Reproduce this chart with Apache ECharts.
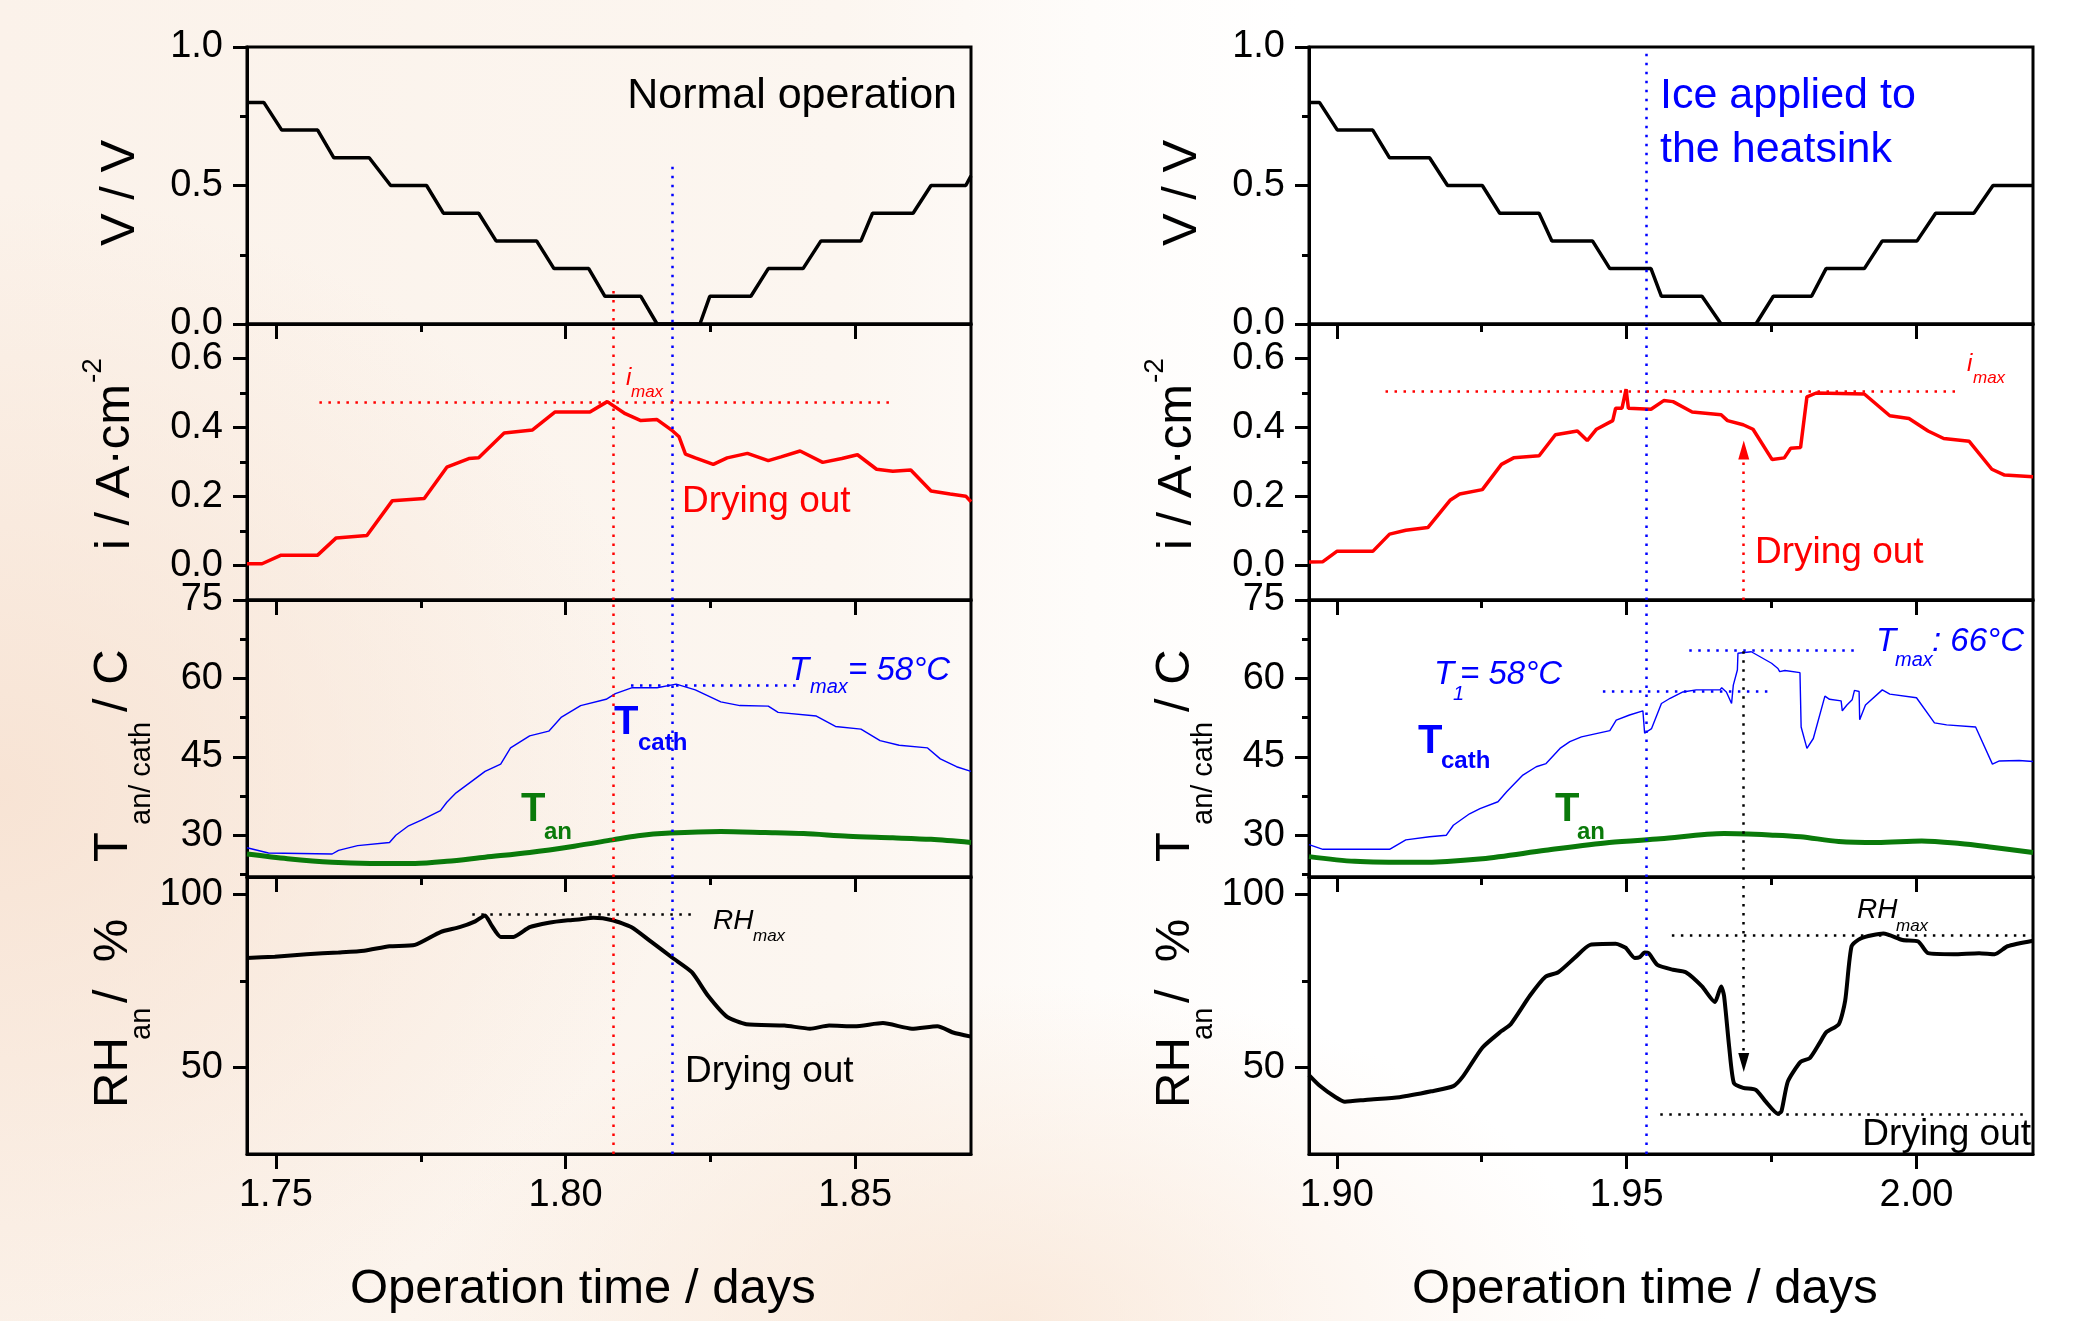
<!DOCTYPE html>
<html><head><meta charset="utf-8">
<script src="https://cdn.jsdelivr.net/npm/echarts@6/dist/echarts.min.js"></script>
<style>
html,body{margin:0;padding:0;width:2099px;height:1321px;overflow:hidden;}
body{background:
 radial-gradient(ellipse 900px 800px at 0% 60%, rgba(247,226,210,0.9), rgba(247,226,210,0) 75%),
 radial-gradient(ellipse 800px 450px at 48% 100%, rgba(249,230,214,0.8), rgba(249,230,214,0) 75%),
 linear-gradient(90deg, #fbf2ea 0%, #fcf6f0 40%, #fefcfa 52%, #ffffff 62%, #ffffff 100%);}
#c{width:2099px;height:1321px;}
</style></head><body><div id="c"></div><script>
// ---------------- data ----------------
// Left chart (normal operation)
const leftVx = [1.7450,1.7479,1.7510,1.7572,1.7600,1.7661,1.7698,1.7760,1.7789,1.7850,1.7880,1.7950,1.7980,1.8040,1.8068,1.8130,1.8158,1.8232,1.8249,1.8320,1.8350,1.8410,1.8441,1.8510,1.8530,1.8600,1.8631,1.8691,1.8700];
const leftVy = [0.8,0.8,0.7,0.7,0.6,0.6,0.5,0.5,0.4,0.4,0.3,0.3,0.2,0.2,0.1,0.1,0,0,0.1,0.1,0.2,0.2,0.3,0.3,0.4,0.4,0.5,0.5,0.535];
const leftIx = [1.7450,1.7476,1.7509,1.7572,1.7604,1.7657,1.7701,1.7756,1.7795,1.7833,1.7850,1.7894,1.7943,1.7982,1.8042,1.8072,1.8103,1.8130,1.8158,1.8185,1.8196,1.8207,1.8224,1.8255,1.8279,1.8314,1.8350,1.8372,1.8405,1.8444,1.8477,1.8504,1.8537,1.8565,1.8596,1.8631,1.8664,1.8691,1.8700];
const leftIy = [0.005,0.005,0.03,0.03,0.08,0.087,0.188,0.194,0.285,0.31,0.312,0.384,0.393,0.445,0.445,0.475,0.44,0.42,0.423,0.39,0.373,0.323,0.312,0.293,0.312,0.325,0.304,0.315,0.332,0.299,0.31,0.321,0.279,0.273,0.277,0.216,0.207,0.201,0.185];
const leftTcx = [1.7450,1.7487,1.7597,1.7608,1.7641,1.7696,1.7707,1.7729,1.7751,1.7784,1.7795,1.7811,1.7839,1.7861,1.7888,1.7905,1.7938,1.7971,1.7993,1.8026,1.8070,1.8086,1.8114,1.8158,1.8191,1.8224,1.8268,1.8301,1.8350,1.8367,1.8433,1.8466,1.8510,1.8543,1.8576,1.8625,1.8647,1.8675,1.8700];
const leftTcy = [27.6,26.6,26.4,27.1,28.0,28.6,30.0,31.8,32.9,34.7,36.3,38.1,40.4,42.2,43.6,46.7,49.0,49.9,52.6,54.8,56.0,57.1,58.2,58.2,58.9,57.8,55.5,54.8,54.7,53.5,52.8,50.8,50.3,48.1,47.2,46.7,44.6,43.1,42.2];
const leftTax = [1.7450,1.7520,1.7597,1.7663,1.7740,1.7795,1.7861,1.7938,1.8015,1.8081,1.8125,1.8180,1.8268,1.8345,1.8411,1.8488,1.8565,1.8631,1.8700];
const leftTay = [26.4,25.5,24.8,24.6,24.6,25.0,25.8,26.7,27.9,29.1,29.9,30.4,30.7,30.5,30.3,29.8,29.5,29.2,28.6];
const leftRHx = [1.7450,1.7498,1.7553,1.7608,1.7652,1.7696,1.7740,1.7784,1.7817,1.7844,1.7861,1.7872,1.7888,1.7910,1.7938,1.7971,1.8004,1.8026,1.8048,1.8081,1.8114,1.8147,1.8185,1.8218,1.8246,1.8279,1.8312,1.8378,1.8422,1.8455,1.8499,1.8548,1.8598,1.8642,1.8669,1.8700];
const leftRHy = [81.6,82.0,82.7,83.2,83.7,85.0,85.4,89.1,90.5,92.2,93.9,91.1,87.7,87.7,90.5,91.8,92.5,92.8,93.2,92.5,90.5,86.4,81.6,77.5,70.7,64.6,62.5,62.1,61.2,62.1,61.9,62.8,61.2,61.9,60.1,58.9];

// Right chart (ice applied to the heatsink)
const rightVx = [1.8952,1.8970,1.9001,1.9062,1.9091,1.9160,1.9191,1.9251,1.9281,1.9349,1.9371,1.9441,1.9471,1.9542,1.9560,1.9630,1.9663,1.9723,1.9753,1.9819,1.9844,1.9910,1.9941,2.0001,2.0033,2.0099,2.0132,2.0201];
const rightVy = [0.8,0.8,0.7,0.7,0.6,0.6,0.5,0.5,0.4,0.4,0.3,0.3,0.2,0.2,0.1,0.1,0,0,0.1,0.1,0.2,0.2,0.3,0.3,0.4,0.4,0.5,0.5];
const rightIx = [1.8952,1.8976,1.9000,1.9062,1.9091,1.9119,1.9157,1.9196,1.9212,1.9251,1.9284,1.9305,1.9349,1.9377,1.9415,1.9432,1.9448,1.9476,1.9481,1.9492,1.9499,1.9503,1.9542,1.9564,1.9580,1.9613,1.9663,1.9674,1.9701,1.9718,1.9751,1.9772,1.9783,1.9800,1.9811,1.9827,1.9910,1.9954,1.9987,2.0020,2.0047,2.0091,2.0130,2.0152,2.0201];
const rightIy = [0.01,0.011,0.041,0.041,0.091,0.102,0.11,0.19,0.207,0.22,0.293,0.312,0.318,0.379,0.39,0.362,0.395,0.42,0.456,0.456,0.511,0.456,0.453,0.478,0.475,0.445,0.437,0.42,0.408,0.395,0.307,0.312,0.34,0.342,0.489,0.5,0.497,0.434,0.426,0.39,0.368,0.36,0.279,0.262,0.257];
const rightTcx = [1.8952,1.8976,1.9091,1.9119,1.9160,1.9189,1.9201,1.9229,1.9247,1.9278,1.9293,1.9321,1.9344,1.9361,1.9385,1.9402,1.9422,1.9471,1.9482,1.9505,1.9528,1.9531,1.9543,1.9560,1.9575,1.9597,1.9620,1.9661,1.9664,1.9672,1.9681,1.9684,1.9691,1.9692,1.9715,1.9750,1.9761,1.9764,1.9773,1.9799,1.9801,1.9811,1.9822,1.9842,1.9850,1.9870,1.9872,1.9880,1.9889,1.9893,1.9901,1.9902,1.9912,1.9941,1.9954,2.0000,2.0031,2.0052,2.0102,2.0131,2.0143,2.0177,2.0201];
const rightTcy = [28.2,27.3,27.3,29.1,29.7,30.0,31.9,34.1,35.1,36.4,38.3,41.5,43.1,43.7,46.6,47.9,48.8,50.0,52.0,53.0,53.8,49.5,50.4,55.2,56.2,57.4,57.8,57.8,58.2,57.4,55.2,58.7,61.6,64.8,65.1,62.9,61.9,61.3,61.5,61.1,50.7,46.6,48.5,56.6,56.0,55.7,53.8,54.9,55.9,57.7,57.5,52.1,54.9,57.8,57.0,56.3,51.5,51.1,50.7,43.6,44.2,44.3,44.1];
const rightTax = [1.8952,1.9031,1.9141,1.9251,1.9360,1.9470,1.9558,1.9668,1.9756,1.9800,1.9866,1.9932,2.0009,2.0075,2.0130,2.0201];
const rightTay = [25.9,25.0,24.8,25.5,27.1,28.6,29.3,30.3,30.0,29.7,28.8,28.6,28.9,28.4,27.7,26.7];
const rightRHx = [1.8952,1.8970,1.8998,1.9014,1.9053,1.9108,1.9163,1.9201,1.9218,1.9251,1.9284,1.9300,1.9333,1.9360,1.9382,1.9410,1.9437,1.9481,1.9498,1.9514,1.9523,1.9531,1.9538,1.9553,1.9580,1.9602,1.9630,1.9652,1.9663,1.9668,1.9677,1.9685,1.9701,1.9723,1.9740,1.9761,1.9767,1.9778,1.9800,1.9816,1.9833,1.9844,1.9866,1.9877,1.9888,1.9904,1.9943,1.9976,2.0003,2.0020,2.0064,2.0108,2.0135,2.0157,2.0201];
const rightRHy = [47.8,44.8,41.4,40.1,40.7,41.4,43.1,44.6,47.5,55.7,60.5,62.5,70.7,76.2,77.5,81.6,85.4,85.7,84.6,81.6,81.9,83.2,83.0,79.6,78.2,77.5,73.4,68.9,73.4,70.7,55.7,45.5,44.1,43.5,40.1,36.6,37.3,45.9,51.6,52.7,57.1,60.1,62.5,69.3,85.0,87.3,88.7,86.8,86.4,83.0,82.7,83.0,82.7,85.0,86.6];

// marker values (annotation references)
const leftImax = 0.473, leftTmax = 58.7, leftRHmax = 94.1;
const leftImaxTime = 1.8083, leftTmaxTime = 1.8185;
const rightImax = 0.504, rightT1 = 57.5, rightTmax = 65.4, rightRHmax = 88.1, rightRHmin = 36.4;
const rightIceTime = 1.9533, rightDryTime = 1.9702;

// axis ticks
const xTicksLeft = [1.75, 1.80, 1.85], xMinorLeft = [1.775, 1.825];
const xTicksRight = [1.90, 1.95, 2.00], xMinorRight = [1.925, 1.975];
const vTicks = [0, 0.5, 1.0], vMinor = [0.25, 0.75];
const iTicks = [0, 0.2, 0.4, 0.6], iMinor = [0.1, 0.3, 0.5];
const tTicks = [30, 45, 60, 75], tMinor = [22.5, 37.5, 52.5, 67.5];
const rhTicks = [50, 100], rhMinor = [75];

// ---------------- layout ----------------
const FONT = "'Liberation Sans', Arial, sans-serif";
const zip = (a, b) => a.map((v, i) => [v, b[i]]);
const PANELS = [{top:47,height:277},{top:324,height:276},{top:600,height:277},{top:877,height:277}];
const CHARTS = [
  {left:247, width:724, xMin:1.745, xMax:1.870, major:xTicksLeft, minor:xMinorLeft},
  {left:1309, width:724, xMin:1.8952, xMax:2.0201, major:xTicksRight, minor:xMinorRight}
];
const YS = [
  {min:0, max:1, major:vTicks, minor:vMinor, dec:1},
  {min:-0.1, max:0.7, major:iTicks, minor:iMinor, dec:1},
  {min:22, max:75, major:tTicks, minor:tMinor, dec:0},
  {min:25, max:105, major:rhTicks, minor:rhMinor, dec:0}
];

const grids = [], xAxes = [], yAxes = [];
CHARTS.forEach((c) => PANELS.forEach((p) => {
  grids.push({left:c.left, top:p.top, width:c.width, height:p.height, show:true,
    borderColor:'#000', borderWidth:3, backgroundColor:'transparent', containLabel:false, outerBoundsMode:'none'});
}));
// major axes 0..7
CHARTS.forEach((c, ci) => PANELS.forEach((p, pi) => {
  const gi = ci*4 + pi, y = YS[pi];
  xAxes.push({type:'value', gridIndex:gi, min:c.xMin, max:c.xMax, position:'bottom',
    axisLine:{show:true, onZero:false, lineStyle:{color:'#000', width:3}},
    axisTick:{show:true, inside:false, length:15, customValues:c.major, lineStyle:{color:'#000', width:3}},
    axisLabel:{show: pi===3, customValues:c.major, formatter:v=>v.toFixed(2), fontSize:38, color:'#000', fontFamily:FONT, margin:23},
    splitLine:{show:false}});
  yAxes.push({type:'value', gridIndex:gi, min:y.min, max:y.max, position:'left',
    axisLine:{show:true, onZero:false, lineStyle:{color:'#000', width:3}},
    axisTick:{show:true, inside:false, length:14, customValues:y.major, lineStyle:{color:'#000', width:3}},
    axisLabel:{show:true, customValues:y.major, formatter:v=>(+v).toFixed(y.dec), fontSize:38, color:'#000', fontFamily:FONT, margin:24},
    splitLine:{show:false}});
}));
// minor tick axes 8..15
CHARTS.forEach((c, ci) => PANELS.forEach((p, pi) => {
  const gi = ci*4 + pi, y = YS[pi];
  xAxes.push({type:'value', gridIndex:gi, min:c.xMin, max:c.xMax, position:'bottom',
    axisLine:{show:false, onZero:false}, axisLabel:{show:false}, splitLine:{show:false},
    axisTick:{show:true, inside:false, length:8, customValues:c.minor, lineStyle:{color:'#000', width:3}}});
  yAxes.push({type:'value', gridIndex:gi, min:y.min, max:y.max, position:'left',
    axisLine:{show:false, onZero:false}, axisLabel:{show:false}, splitLine:{show:false},
    axisTick:{show:true, inside:false, length:7, customValues:y.minor, lineStyle:{color:'#000', width:3}}});
}));

const DOT = [2.5, 6.5];
function seg(x1, y1, x2, y2, color, arrow) {
  const a = {coord:[x1, y1], symbol:'none', lineStyle:{color:color, width:2.5, type:DOT}, itemStyle:{color:color}};
  const b = {coord:[x2, y2], symbol: arrow ? 'triangle' : 'none', symbolSize:[11, 19], itemStyle:{color:color}};
  return [a, b];
}
function ml(items) {
  return {silent:true, animation:false, symbol:['none','none'], label:{show:false}, emphasis:{disabled:true}, data:items};
}
function line(gi, data, color, width, smooth, marks) {
  return {type:'line', xAxisIndex:gi, yAxisIndex:gi, data:data, showSymbol:false, symbol:'none',
    smooth:smooth||false, lineStyle:{color:color, width:width}, itemStyle:{color:color},
    animation:false, silent:true, z:3, markLine: marks ? ml(marks) : undefined};
}
const RED = '#ff0000', BLUE = '#0000ff', GREEN = '#0a7a0a', BLACK = '#000000';

const series = [
  // left
  line(0, zip(leftVx, leftVy), BLACK, 3.5, false, [
    seg(leftImaxTime, 0.119, leftImaxTime, 0, RED), seg(leftTmaxTime, 0.568, leftTmaxTime, 0, BLUE)]),
  line(1, zip(leftIx, leftIy), RED, 3.5, false, [
    seg(leftImaxTime, -0.1, leftImaxTime, 0.7, RED), seg(leftTmaxTime, -0.1, leftTmaxTime, 0.7, BLUE),
    seg(1.7575, leftImax, 1.8565, leftImax, RED)]),
  line(2, zip(leftTcx, leftTcy), BLUE, 1.4, false, [
    seg(leftImaxTime, 22, leftImaxTime, 75, RED), seg(leftTmaxTime, 22, leftTmaxTime, 75, BLUE),
    seg(1.8113, leftTmax, 1.8405, leftTmax, BLUE)]),
  line(2, zip(leftTax, leftTay), GREEN, 5, 0.3),
  line(3, zip(leftRHx, leftRHy), BLACK, 4, 0.2, [
    seg(leftImaxTime, 25, leftImaxTime, 105, RED), seg(leftTmaxTime, 25, leftTmaxTime, 105, BLUE),
    seg(1.7839, leftRHmax, 1.8224, leftRHmax, BLACK)]),
  // right
  line(4, zip(rightVx, rightVy), BLACK, 3.5, false, [
    seg(rightIceTime, 0.976, rightIceTime, 0, BLUE)]),
  line(5, zip(rightIx, rightIy), RED, 3.5, false, [
    seg(rightIceTime, -0.1, rightIceTime, 0.7, BLUE),
    seg(1.9084, rightImax, 2.0075, rightImax, RED),
    seg(rightDryTime, -0.1, rightDryTime, 0.335, RED, true)]),
  line(6, zip(rightTcx, rightTcy), BLUE, 1.4, false, [
    seg(rightIceTime, 22, rightIceTime, 75, BLUE),
    seg(1.9459, rightT1, 1.9751, rightT1, BLUE),
    seg(1.9608, rightTmax, 1.9899, rightTmax, BLUE),
    seg(rightDryTime, 65.2, rightDryTime, 22, BLACK)]),
  line(6, zip(rightTax, rightTay), GREEN, 5, 0.3),
  line(7, zip(rightRHx, rightRHy), BLACK, 4, 0.2, [
    seg(rightIceTime, 25, rightIceTime, 105, BLUE),
    seg(rightDryTime, 105, rightDryTime, 51.4, BLACK, true),
    seg(1.9578, rightRHmax, 2.0201, rightRHmax, BLACK),
    seg(1.9558, rightRHmin, 2.0185, rightRHmin, BLACK)])
];

// ---------------- texts ----------------
function T(x, base, text, size, color, fstyle, weight, align) {
  return {type:'text', x:x, y: base - 0.3465*size, silent:true, z:100,
    style:{text:text, fill:color||'#000', font:(fstyle||'normal')+' '+(weight||'normal')+' '+size+'px '+FONT,
      align:align||'left', verticalAlign:'middle', textAlign:align||'left', textVerticalAlign:'middle'}};
}
function R(baseX, startY, text, size) {
  return {type:'text', x: baseX - 0.3465*size, y:startY, rotation:Math.PI/2, silent:true, z:100,
    style:{text:text, fill:'#000', font:'normal normal '+size+'px '+FONT,
      align:'left', verticalAlign:'middle', textAlign:'left', textVerticalAlign:'middle'}};
}
const texts = [];
[0, 1062].forEach(dx => {
  texts.push(R(137+dx, 246, 'V / V', 49));
  texts.push(R(132+dx, 550, 'i / A·cm', 49));
  texts.push(R(103+dx, 383, '-2', 28));
  texts.push(R(130+dx, 862, 'T', 49));
  texts.push(R(152+dx, 825, 'an/ cath', 29));
  texts.push(R(130+dx, 712, '/ C', 49));
  texts.push(R(130+dx, 1108, 'RH', 49));
  texts.push(R(152+dx, 1040, 'an', 29));
  texts.push(R(130+dx, 1003, '/  %', 49));
  texts.push(T(350+dx, 1306, 'Operation time / days', 49));
});
// left annotations
texts.push(T(957, 111, 'Normal operation', 43, BLACK, 'normal', 'normal', 'right'));
texts.push(T(626, 387, 'i', 24, RED, 'italic'));
texts.push(T(631, 398, 'max', 17, RED, 'italic'));
texts.push(T(682, 515, 'Drying out', 37, RED));
texts.push(T(789, 682, 'T', 33, BLUE, 'italic'));
texts.push(T(810, 694, 'max', 20, BLUE, 'italic'));
texts.push(T(848, 682, '= 58°C', 33, BLUE, 'italic'));
texts.push(T(614, 737, 'T', 40, BLUE, 'normal', 'bold'));
texts.push(T(638, 752, 'cath', 24, BLUE, 'normal', 'bold'));
texts.push(T(521, 824, 'T', 40, GREEN, 'normal', 'bold'));
texts.push(T(544, 841, 'an', 24, GREEN, 'normal', 'bold'));
texts.push(T(713, 931, 'RH', 28, BLACK, 'italic'));
texts.push(T(753, 942, 'max', 17, BLACK, 'italic'));
texts.push(T(685, 1085, 'Drying out', 37, BLACK));
// right annotations
texts.push(T(1660, 111, 'Ice applied to', 43, BLUE));
texts.push(T(1660, 165, 'the heatsink', 43, BLUE));
texts.push(T(1967, 373, 'i', 24, RED, 'italic'));
texts.push(T(1973, 384, 'max', 17, RED, 'italic'));
texts.push(T(1755, 566, 'Drying out', 37, RED));
texts.push(T(1434, 686, 'T', 33, BLUE, 'italic'));
texts.push(T(1453, 701, '1', 20, BLUE, 'italic'));
texts.push(T(1460, 686, '= 58°C', 33, BLUE, 'italic'));
texts.push(T(1876, 653, 'T', 33, BLUE, 'italic'));
texts.push(T(1895, 667, 'max', 20, BLUE, 'italic'));
texts.push(T(1932, 653, ': 66°C', 33, BLUE, 'italic'));
texts.push(T(1418, 756, 'T', 40, BLUE, 'normal', 'bold'));
texts.push(T(1441, 770, 'cath', 24, BLUE, 'normal', 'bold'));
texts.push(T(1555, 824, 'T', 40, GREEN, 'normal', 'bold'));
texts.push(T(1577, 841, 'an', 24, GREEN, 'normal', 'bold'));
texts.push(T(1857, 920, 'RH', 28, BLACK, 'italic'));
texts.push(T(1896, 932, 'max', 17, BLACK, 'italic'));
texts.push(T(2031, 1148, 'Drying out', 37, BLACK, 'normal', 'normal', 'right'));

const chart = echarts.init(document.getElementById('c'), null, {renderer:'canvas'});
chart.setOption({
  backgroundColor:'transparent',
  animation:false,
  textStyle:{fontFamily:FONT},
  grid:grids, xAxis:xAxes, yAxis:yAxes, series:series,
  graphic:{elements:texts}
});
</script></body></html>
